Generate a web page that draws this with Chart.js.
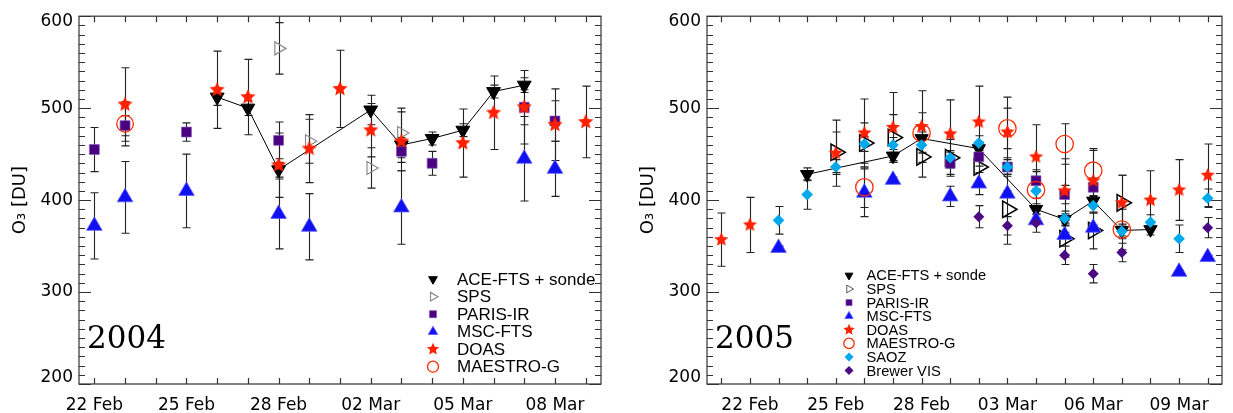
<!DOCTYPE html>
<html><head><meta charset="utf-8">
<script src="https://cdn.jsdelivr.net/npm/chart.js@4.4.1/dist/chart.umd.min.js"></script>
<style>
html,body{margin:0;padding:0;background:#fff;}
#wrap{position:relative;width:1233px;height:413px;overflow:hidden;background:#fff;}
#c1{position:absolute;left:0;top:0;width:628px;height:413px;}
#c2{position:absolute;left:628px;top:0;width:605px;height:413px;}
</style></head><body>
<div id="wrap"><canvas id="c1" width="628" height="413"></canvas><canvas id="c2" width="605" height="413"></canvas></div>
<script>
// ---------- DATA (days counted from 22 Feb) ----------
// 2004
const ace04Days = [4,5,6,9,10,11,12,13,14];
const ace04Vals = [512,500,433,498,460,467,476,518,525];
const ace04Err  = [9,8,8,16,8,7,7,7,8];
const sps04Days = [6,7,9,10];
const sps04Vals = [565,464,435,473];
const sps04Err  = [28,24,22,27];
const paris04Days = [0,1,3,6,10,11,14,15];
const paris04Vals = [455,481,474,465,453,440,501,486];
const paris04Err  = [24,11,10,20,12,13,19,22];
const msc04Days = [0,1,3,6,7,10,14,15];
const msc04Vals = [372,403,410,385,371,392,445,434];
const msc04Err  = [36,39,40,38,36,40,46,30];
const doas04Days = [1,4,5,6,7,8,9,10,12,13,14,15,16];
const doas04Vals = [504,520,512,438,456,521,476,464,462,495,501,482,485];
const doas04Err  = [40,42,41,35,37,42,29,32,37,40,40,39,39];
const maestro04Days = [1];
const maestro04Vals = [483];
const maestro04Err  = [24];
// 2005
const ace05Days = [2,5,6,8,10,11,12,13,14];
const ace05Vals = [428,448,467,456,390,379,399,367,368];
const ace05Err  = [7,7,7,7,6,6,6,6,6];
const sps05Days = [3,4,5,6,7,8,9,11,12,13];
const sps05Vals = [452,462,468,447,446,436,390,358,367,397];
const sps05Err  = [22,22,25,22,20,20,38,20,20,30];
const paris05Days = [7,8,9,10,11,12];
const paris05Vals = [440,447,436,421,406,414];
const paris05Err  = [12,10,10,10,10,10];
const msc05Days = [1,4,5,7,8,9,10,11,12,15,16];
const msc05Vals = [348,408,422,404,418,407,378,362,370,322,338];
const msc05Err  = [2,26,3,11,12,3,3,3,3,2,2];
const doas05Days = [-1,0,3,4,5,6,7,8,9,10,11,12,13,14,15,16];
const doas05Vals = [357,373,451,473,479,480,472,485,474,447,410,421,397,400,411,427];
const doas05Err  = [29,30,36,37,38,39,37,39,38,35,35,35,30,32,33,34];
const maestro05Days = [4,6,9,10,11,12,13];
const maestro05Vals = [414,473,478,411,461,432,368];
const maestro05Err  = [22,22,22,22,22,22,22];
const saoz05Days = [1,2,3,4,5,6,7,8,9,10,11,12,13,14,15,16];
const saoz05Vals = [378,406,436,461,460,460,446,462,436,410,380,394,366,376,358,402];
const saoz05Err  = [15,16,8,8,8,8,8,8,8,8,8,8,8,8,15,10];
const brewer05Days = [8,9,10,11,12,13,16];
const brewer05Vals = [382,372,375,340,320,343,370];
const brewer05Err  = [12,10,10,10,10,10,11];
// ticks
const xTickDays = [0,3,6,9,12,15];
const xTickLabels04 = ['22 Feb','25 Feb','28 Feb','02 Mar','05 Mar','08 Mar'];
const xTickLabels05 = ['22 Feb','25 Feb','28 Feb','03 Mar','06 Mar','09 Mar'];
const yTicks = [200,300,400,500,600];
const seriesNames04 = ['ACE-FTS + sonde','SPS','PARIS-IR','MSC-FTS','DOAS','MAESTRO-G'];
const seriesNames05 = ['ACE-FTS + sonde','SPS','PARIS-IR','MSC-FTS','DOAS','MAESTRO-G','SAOZ','Brewer VIS'];

// ---------- helpers ----------
function starPath(g, cx, cy, R, r){
  g.beginPath();
  for(let i=0;i<10;i++){
    const a = -Math.PI/2 + i*Math.PI/5;
    const rr = i%2===0 ? R : r;
    g.lineTo(cx + rr*Math.cos(a), cy + rr*Math.sin(a));
  }
  g.closePath();
}
function starCanvas(R, color){
  const s = Math.ceil(R*2+4);
  const c = document.createElement('canvas'); c.width = s; c.height = s;
  const g = c.getContext('2d');
  starPath(g, s/2, s/2, R, R*0.46);
  g.fillStyle = color; g.fill();
  return c;
}
function drawSym(ctx, sym, x, y, r){
  ctx.save();
  ctx.beginPath();
  if(sym.shape==='tri'){
    const rot=(sym.rot||0)*Math.PI/180;
    for(let k=0;k<3;k++){const a=rot+k*2*Math.PI/3; ctx.lineTo(x+Math.sin(a)*r, y-Math.cos(a)*r);}
    ctx.closePath();
  } else if(sym.shape==='rect'){
    const h=r*Math.SQRT1_2; ctx.rect(x-h,y-h,2*h,2*h);
  } else if(sym.shape==='diamond'){
    ctx.moveTo(x-r,y);ctx.lineTo(x,y-r);ctx.lineTo(x+r,y);ctx.lineTo(x,y+r);ctx.closePath();
  } else if(sym.shape==='circle'){
    ctx.arc(x,y,r,0,Math.PI*2);
  } else if(sym.shape==='star'){
    starPath(ctx,x,y,r,r*0.46);
  }
  if(sym.fill){ctx.fillStyle=sym.fill;ctx.fill();}
  if(sym.stroke){ctx.strokeStyle=sym.stroke;ctx.lineWidth=sym.lw||1;ctx.stroke();}
  ctx.restore();
}
function pts(days, vals){ return days.map((d,i)=>({x:d, y:vals[i]})); }
function makeDataset(label, days, vals, errs, sym, r, order, extra){
  let ps;
  if(sym.shape==='tri') ps='triangle';
  else if(sym.shape==='rect') ps='rect';
  else if(sym.shape==='diamond') ps='rectRot';
  else if(sym.shape==='circle') ps='circle';
  else ps=starCanvas(r, sym.fill);
  return Object.assign({
    label, data: pts(days, vals), errors: errs,
    pointStyle: ps, pointRadius: r, pointHoverRadius: r,
    pointRotation: sym.rot||0,
    pointBackgroundColor: sym.fill || 'rgba(0,0,0,0)',
    pointBorderColor: sym.stroke || sym.fill,
    pointBorderWidth: sym.stroke ? (sym.lw||1) : 0,
    showLine: false, order
  }, extra||{});
}

const symACE = {shape:'tri', rot:180, fill:'#000', stroke:'#000', lw:1};
const symSPS04 = {shape:'tri', rot:90, stroke:'#8a8a8a', lw:1.2};
const symSPS05 = {shape:'tri', rot:90, stroke:'#000', lw:1.5};
const symPARIS = {shape:'rect', fill:'#4b0082', stroke:'rgba(130,90,180,0.7)', lw:1};
const symMSC = {shape:'tri', rot:0, fill:'#1010f0', stroke:'rgba(90,90,255,0.8)', lw:1};
const symDOAS = {shape:'star', fill:'#ff2000'};
const symMAESTRO = {shape:'circle', stroke:'#ff2a00', lw:1.3};
const symSAOZ = {shape:'diamond', fill:'#00a8ec'};
const symBREWER = {shape:'diamond', fill:'#4b0a82'};

const tickFontCss = '17px "DejaVu Sans"';

// ---------- plugins ----------
const framePlugin = {
  id:'frameErr',
  beforeDatasetsDraw(chart){
    const {ctx, chartArea:ca, scales:{x,y}} = chart;
    ctx.save();
    // error bars
    chart.data.datasets.forEach(ds=>{
      if(!ds.errors) return;
      ctx.strokeStyle = '#222'; ctx.lineWidth = 1.1;
      ds.data.forEach((p,i)=>{
        const e = ds.errors[i]; if(!e) return;
        const px = Math.round(x.getPixelForValue(p.x))+0.5;
        const y1 = y.getPixelForValue(p.y-e), y2 = y.getPixelForValue(p.y+e);
        ctx.beginPath();
        ctx.moveTo(px,y1);ctx.lineTo(px,y2);
        ctx.moveTo(px-4,y1);ctx.lineTo(px+4,y1);
        ctx.moveTo(px-4,y2);ctx.lineTo(px+4,y2);
        ctx.stroke();
      });
    });
    // frame and inward ticks
    ctx.strokeStyle='#333'; ctx.lineWidth=1.2;
    ctx.strokeRect(ca.left, ca.top, ca.right-ca.left, ca.bottom-ca.top);
    ctx.beginPath();
    for(let v=y.min; v<=y.max+0.01; v+=10){
      const py=Math.round(y.getPixelForValue(v))+0.5;
      const L = (Math.round(v)%100===0)?12:6;
      ctx.moveTo(ca.left,py);ctx.lineTo(ca.left+L,py);
      ctx.moveTo(ca.right,py);ctx.lineTo(ca.right-L,py);
    }
    for(let d=Math.ceil(x.min); d<=x.max; d++){
      const px=Math.round(x.getPixelForValue(d))+0.5;
      ctx.moveTo(px,ca.bottom);ctx.lineTo(px,ca.bottom-6);
      ctx.moveTo(px,ca.top);ctx.lineTo(px,ca.top+6);
    }
    ctx.stroke();
    ctx.restore();
  },
  afterDraw(chart){
    const o = chart.options.plugins.frameErr;
    const {ctx, chartArea:ca, scales:{y}} = chart;
    ctx.save();
    // y tick labels (end labels kept inside the frame height, as in the original)
    ctx.fillStyle='#000'; ctx.font=tickFontCss;
    ctx.textAlign='right'; ctx.textBaseline='middle';
    y.ticks.forEach(t=>{
      let py = y.getPixelForValue(t.value);
      py = Math.min(Math.max(py, ca.top+5), ca.bottom-6);
      ctx.fillText(String(t.value), ca.left-6, py);
    });
    // year label
    ctx.font='31px "DejaVu Serif"';
    ctx.textBaseline='alphabetic'; ctx.textAlign='left';
    ctx.fillText(o.year, ca.left+8, ca.bottom-36);
    // legend
    ctx.font = o.legFont;
    ctx.textBaseline='middle';
    o.legend.forEach((it,i)=>{
      const yy = ca.top + o.legTop + i*o.legStep;
      drawSym(ctx, it.sym, ca.left+o.legSymX, yy, it.r);
      ctx.fillStyle='#000';
      ctx.fillText(it.name, ca.left+o.legTextX, yy+1);
    });
    ctx.restore();
  }
};

function makeScales(tickLabels, xmin, xmax){
  const tickFont = {family:'DejaVu Sans', size:17};
  return {
    x: {type:'linear', min:xmin, max:xmax,
      afterBuildTicks: s => { s.ticks = xTickDays.map(v=>({value:v})); },
      afterFit: s => { s.height = 29; },
      grid:{display:false, drawTicks:false}, border:{display:false},
      ticks:{autoSkip:false, maxRotation:0, padding:11, color:'#000', font:tickFont,
        callback: v => { const i = xTickDays.indexOf(v); return i>=0 ? tickLabels[i] : ''; }}
    },
    y: {type:'linear', min:200, max:600,
      afterBuildTicks: s => { s.ticks = yTicks.map(v=>({value:v})); },
      afterFit: s => { s.width = 79; },
      grid:{display:false, drawTicks:false}, border:{display:false},
      ticks:{padding:6, color:'rgba(0,0,0,0)', font:tickFont},
      title:{display:true, text:'O₃ [DU]', color:'#000', font:{family:'DejaVu Sans', size:18}, padding:{top:10,bottom:0}}
    }
  };
}

Chart.defaults.animation = false;

// ---------- 2004 ----------
const ds04 = [
  makeDataset(seriesNames04[0], ace04Days, ace04Vals, ace04Err, symACE, 8, 6, {showLine:true, borderColor:'#000', borderWidth:1}),
  makeDataset(seriesNames04[1], sps04Days, sps04Vals, sps04Err, symSPS04, 7.5, 5),
  makeDataset(seriesNames04[2], paris04Days, paris04Vals, paris04Err, symPARIS, 7, 4),
  makeDataset(seriesNames04[3], msc04Days, msc04Vals, msc04Err, symMSC, 9, 3),
  makeDataset(seriesNames04[4], doas04Days, doas04Vals, doas04Err, symDOAS, 8, 2),
  makeDataset(seriesNames04[5], maestro04Days, maestro04Vals, maestro04Err, symMAESTRO, 8.3, 1)
];
new Chart(document.getElementById('c1'), {
  type:'scatter',
  data:{datasets:ds04},
  options:{responsive:false, animation:false,
    layout:{padding:{left:0,right:27,top:14,bottom:0}},
    scales: makeScales(xTickLabels04, -0.5, 16.5),
    plugins:{legend:{display:false}, tooltip:{enabled:false},
      frameErr:{year:'2004', legFont:'17px "Liberation Sans"', legSymX:354, legTextX:378, legTop:263, legStep:17.5,
        legend:[
          {name:seriesNames04[0], sym:symACE, r:5},
          {name:seriesNames04[1], sym:symSPS04, r:5},
          {name:seriesNames04[2], sym:symPARIS, r:5},
          {name:seriesNames04[3], sym:symMSC, r:5.5},
          {name:seriesNames04[4], sym:symDOAS, r:6.5},
          {name:seriesNames04[5], sym:symMAESTRO, r:5.5}
        ]}
    }
  },
  plugins:[framePlugin]
});

// ---------- 2005 ----------
const ds05 = [
  makeDataset(seriesNames05[0], ace05Days, ace05Vals, ace05Err, symACE, 7.7, 8, {showLine:true, borderColor:'#000', borderWidth:1}),
  makeDataset(seriesNames05[1], sps05Days, sps05Vals, sps05Err, symSPS05, 9.5, 7),
  makeDataset(seriesNames05[2], paris05Days, paris05Vals, paris05Err, symPARIS, 7, 6),
  makeDataset(seriesNames05[3], msc05Days, msc05Vals, msc05Err, symMSC, 9, 5),
  makeDataset(seriesNames05[4], doas05Days, doas05Vals, doas05Err, symDOAS, 7.5, 4),
  makeDataset(seriesNames05[5], maestro05Days, maestro05Vals, maestro05Err, symMAESTRO, 8.7, 3),
  makeDataset(seriesNames05[6], saoz05Days, saoz05Vals, saoz05Err, symSAOZ, 5.8, 2),
  makeDataset(seriesNames05[7], brewer05Days, brewer05Vals, brewer05Err, symBREWER, 5.5, 1)
];
new Chart(document.getElementById('c2'), {
  type:'scatter',
  data:{datasets:ds05},
  options:{responsive:false, animation:false,
    layout:{padding:{left:0,right:4,top:14,bottom:0}},
    scales: makeScales(xTickLabels05, -1.5, 16.5),
    plugins:{legend:{display:false}, tooltip:{enabled:false},
      frameErr:{year:'2005', legFont:'14.7px "Liberation Sans"', legSymX:142, legTextX:159.5, legTop:259.2, legStep:13.6,
        legend:[
          {name:seriesNames05[0], sym:symACE, r:4.5},
          {name:seriesNames05[1], sym:{shape:'tri', rot:90, stroke:'#555', lw:1}, r:4.5},
          {name:seriesNames05[2], sym:symPARIS, r:4.3},
          {name:seriesNames05[3], sym:symMSC, r:4.8},
          {name:seriesNames05[4], sym:symDOAS, r:6},
          {name:seriesNames05[5], sym:symMAESTRO, r:5.2},
          {name:seriesNames05[6], sym:symSAOZ, r:4.5},
          {name:seriesNames05[7], sym:symBREWER, r:4.5}
        ]}
    }
  },
  plugins:[framePlugin]
});
</script>
</body></html>
